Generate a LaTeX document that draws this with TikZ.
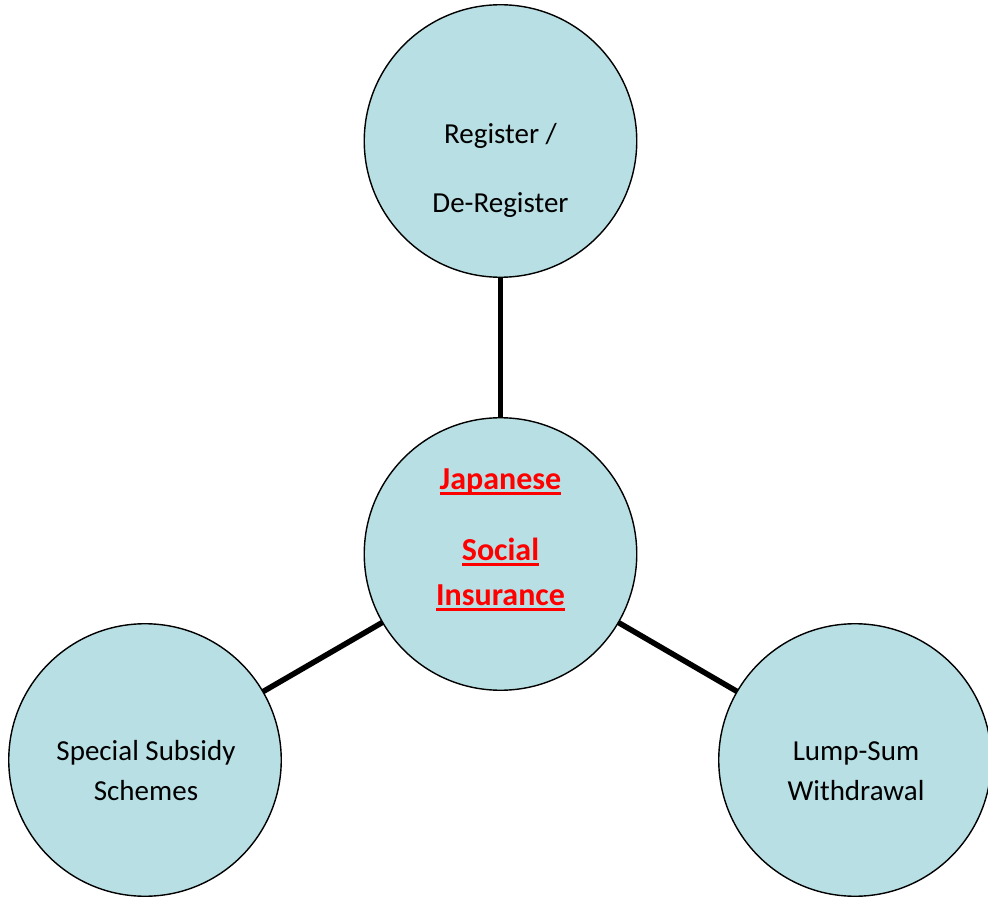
\documentclass[tikz,border=0pt]{standalone}
\usepackage{fontspec}
\setmainfont{Carlito}
\definecolor{bubble}{RGB}{184,223,227}
\newcommand{\myul}[1]{\setbox0\hbox{#1}\rlap{\rule[-6pt]{\wd0}{2.8pt}}\box0}
\begin{document}
\begin{tikzpicture}[x=1pt,y=-1pt,
  bubblenode/.style={circle,draw=black,line width=1.4pt,fill=bubble,minimum size=272.5pt,inner sep=0pt,outer sep=0pt},
  link/.style={draw=black,line width=5.5pt},
  txt/.style={anchor=base,inner sep=0pt,font=\fontsize{29}{35}\selectfont},
  redtxt/.style={anchor=base,inner sep=0pt,text=red,font=\fontsize{32}{38}\selectfont\bfseries}]
\useasboundingbox (0,0) rectangle (988,901);
\node[bubblenode] (top) at (500.5,141) {};
\node[bubblenode] (mid) at (500.5,554) {};
\node[bubblenode] (left) at (145,760) {};
\node[bubblenode] (right) at (855,760) {};
\path[link] (top) -- (mid);
\path[link] (mid) -- (left);
\path[link] (mid) -- (right);
\node[txt] (t1) at (500.5,144) {Register /};
\node[txt] (t2) at (500.5,213) {De-Register};
\node[redtxt] (m1) at (500.5,489) {\myul{Japanese}};
\node[redtxt] (m2) at (500.5,560) {\myul{Social}};
\node[redtxt] (m3) at (500.5,605) {\myul{Insurance}};
\node[txt] (l1) at (146,760) {Special Subsidy};
\node[txt] (l2) at (146,800) {Schemes};
\node[txt] (r1) at (856,760) {Lump-Sum};
\node[txt] (r2) at (856,800) {Withdrawal};
\end{tikzpicture}
\end{document}
